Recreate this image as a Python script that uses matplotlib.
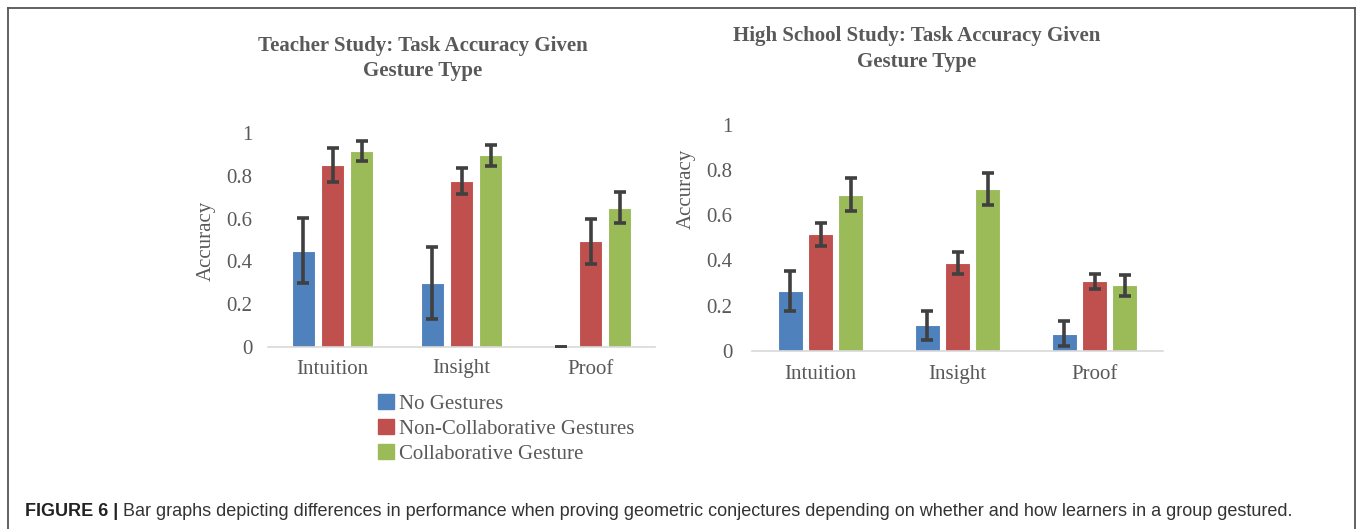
import matplotlib.pyplot as plt
import numpy as np
from matplotlib.lines import Line2D

# data
categories = ["Intuition", "Insight", "Proof"]
series_names = ["No Gestures", "Non-Collaborative Gestures", "Collaborative Gesture"]

teacher_no = [0.45, 0.30, 0.0]
teacher_no_err = [0.153, 0.167, 0.0]
teacher_noncollab = [0.85, 0.775, 0.495]
teacher_noncollab_err = [0.08, 0.06, 0.105]
teacher_collab = [0.915, 0.895, 0.65]
teacher_collab_err = [0.048, 0.047, 0.072]

hs_no = [0.265, 0.112, 0.075]
hs_no_err = [0.088, 0.065, 0.055]
hs_noncollab = [0.515, 0.388, 0.307]
hs_noncollab_err = [0.05, 0.05, 0.034]
hs_collab = [0.692, 0.716, 0.29]
hs_collab_err = [0.071, 0.072, 0.047]

yticks = [0, 0.2, 0.4, 0.6, 0.8, 1]
ytick_labels = ["0", "0.2", "0.4", "0.6", "0.8", "1"]

colors = ["#4F81BD", "#C0504D", "#9BBB59"]
txt = "#595959"
serif = "Liberation Serif"

W, H = 1357, 529
fig = plt.figure(figsize=(W / 100, H / 100), dpi=100)


def px_axes(x0, x1, y_top, y_bot):
    # axes box from pixel coords (y measured from top)
    return fig.add_axes([x0 / W, 1 - y_bot / H, (x1 - x0) / W, (y_bot - y_top) / H])


def draw(ax, vals, errs, bw, step, ypad, xpad):
    x = np.arange(len(categories))
    for i in range(3):
        ax.bar(x + (i - 1) * step, vals[i], bw, color=colors[i],
               edgecolor="white", linewidth=0.8, zorder=2)
        ax.errorbar(x + (i - 1) * step, vals[i], yerr=errs[i], fmt="none",
                    ecolor="#404040", elinewidth=2.6, capsize=4, capthick=2.6, zorder=3)
    ax.set_xlim(-0.5, 2.5)
    ax.set_ylim(0, 1)
    ax.set_xticks(x)
    ax.set_xticklabels(categories, fontsize=15, color=txt, family=serif)
    ax.set_yticks(yticks)
    ax.set_yticklabels(ytick_labels, fontsize=15, color=txt, family=serif)
    ax.tick_params(axis="x", length=0, pad=xpad)
    ax.tick_params(axis="y", length=0, pad=ypad)
    for s in ["top", "right", "left"]:
        ax.spines[s].set_visible(False)
    ax.spines["bottom"].set_color("#D9D9D9")
    ax.spines["bottom"].set_linewidth(1.2)


ax1 = px_axes(268, 655, 133, 347)
draw(ax1, [teacher_no, teacher_noncollab, teacher_collab],
     [teacher_no_err, teacher_noncollab_err, teacher_collab_err], 0.18, 0.225, 11, 9)

ax2 = px_axes(752, 1163, 125, 350.7)
draw(ax2, [hs_no, hs_noncollab, hs_collab],
     [hs_no_err, hs_noncollab_err, hs_collab_err], 0.18, 0.22, 14, 10)

# titles
fig.text(423 / W, 1 - 46 / H, "Teacher Study: Task Accuracy Given", ha="center", va="center",
         fontsize=15, fontweight="bold", color=txt, family=serif)
fig.text(423 / W, 1 - 71 / H, "Gesture Type", ha="center", va="center",
         fontsize=15, fontweight="bold", color=txt, family=serif)
fig.text(917 / W, 1 - 36 / H, "High School Study: Task Accuracy Given", ha="center", va="center",
         fontsize=15, fontweight="bold", color=txt, family=serif)
fig.text(917 / W, 1 - 62 / H, "Gesture Type", ha="center", va="center",
         fontsize=15, fontweight="bold", color=txt, family=serif)

# y labels
fig.text(206 / W, 1 - 241 / H, "Accuracy", rotation=90, ha="center", va="center",
         fontsize=15, color=txt, family=serif)
fig.text(686 / W, 1 - 189 / H, "Accuracy", rotation=90, ha="center", va="center",
         fontsize=15, color=txt, family=serif)

# legend under the left chart
handles = [plt.Rectangle((0, 0), 1, 1, color=c) for c in colors]
fig.legend(handles, series_names, loc="upper left", bbox_to_anchor=(378 / W, 1 - 394 / H),
           frameon=False, prop={"family": serif, "size": 15}, labelcolor=txt,
           handlelength=0.75, handleheight=0.75, handletextpad=0.25, labelspacing=0.25,
           borderaxespad=0, borderpad=0)

# caption
cap_y = 1 - 511 / H
cap_bold = fig.text(25 / W, cap_y, "FIGURE 6 |", ha="left", va="center", fontsize=13,
                    fontweight="bold", color="#222222", family="Liberation Sans")
fig.canvas.draw()
bb = cap_bold.get_window_extent()
fig.text((bb.x1 + 5) / W, cap_y,
         "Bar graphs depicting differences in performance when proving geometric conjectures "
         "depending on whether and how learners in a group gestured.",
         ha="left", va="center", fontsize=13, color="#333333", family="Liberation Sans")

# frame around the figure panel
bc = "#555555"
fig.add_artist(Line2D([8 / W, 8 / W], [0, 1 - 8 / H], color=bc, lw=1.3, transform=fig.transFigure))
fig.add_artist(Line2D([8 / W, 1355 / W], [1 - 8 / H, 1 - 8 / H], color=bc, lw=1.3, transform=fig.transFigure))
fig.add_artist(Line2D([1355 / W, 1355 / W], [0, 1 - 8 / H], color=bc, lw=1.3, transform=fig.transFigure))

fig.savefig("out.png", dpi=100)
